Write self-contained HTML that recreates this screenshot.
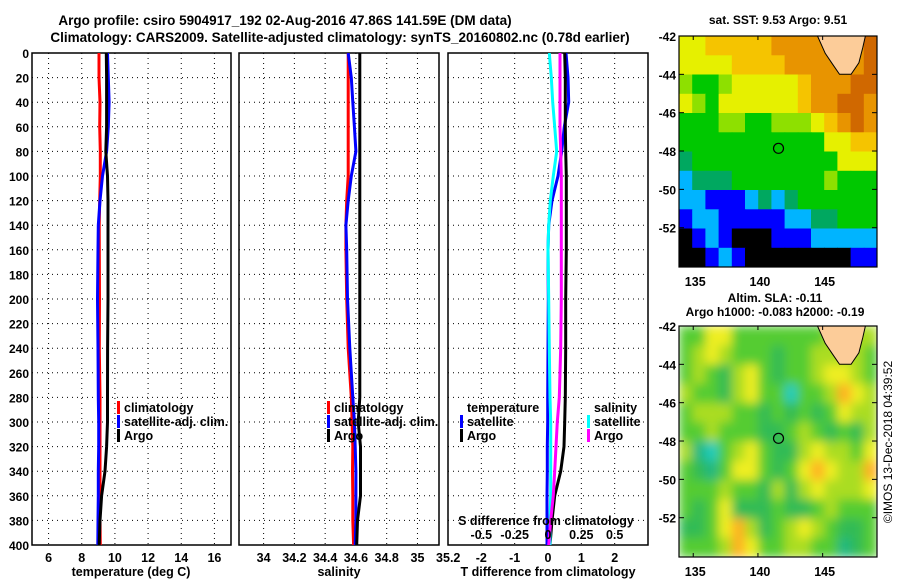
<!DOCTYPE html>
<html><head><meta charset="utf-8"><style>
body{margin:0;background:#fff;}
svg{display:block;font-family:"Liberation Sans",sans-serif;font-weight:bold;}
</style></head><body>
<svg id="fig" width="900" height="580" viewBox="0 0 900 580">
<defs>
<clipPath id="c1"><rect x="32" y="53" width="199" height="492"/></clipPath>
<clipPath id="c2"><rect x="239" y="53" width="200" height="492"/></clipPath>
<clipPath id="c3"><rect x="448" y="53" width="200" height="492"/></clipPath>
<clipPath id="cm1"><rect x="679" y="36" width="198" height="231"/></clipPath>
<clipPath id="cm2"><rect x="679" y="326" width="198" height="231"/></clipPath>
<filter id="blur" x="-5%" y="-5%" width="110%" height="110%"><feGaussianBlur stdDeviation="5" edgeMode="duplicate"/></filter>
</defs>
<text x="285" y="25" font-size="13.5" text-anchor="middle">Argo profile: csiro 5904917_192 02-Aug-2016 47.86S 141.59E (DM data)</text>
<text x="340" y="42" font-size="13.5" text-anchor="middle">Climatology: CARS2009. Satellite-adjusted climatology: synTS_20160802.nc (0.78d earlier)</text>
<text x="778" y="24" font-size="12" text-anchor="middle">sat. SST: 9.53 Argo: 9.51</text>
<text x="775" y="302" font-size="12" text-anchor="middle">Altim. SLA: -0.11</text>
<text x="775" y="316" font-size="12" text-anchor="middle">Argo h1000: -0.083 h2000: -0.19</text>
<text transform="translate(892,442) rotate(-90)" font-size="12" font-weight="normal" text-anchor="middle">©IMOS 13-Dec-2018 04:39:52</text>
<g id="plots"></g>
</svg>
<script>
// ---- profile data ----
const depths = [0,20,40,60,80,100,120,140,160,200,240,280,300,320,340,360,380,400];
const tempClim = [9.04,9.04,9.1,9.08,9.12,9.12,9.08,9.05,9.06,9.07,9.06,9.1,9.1,9.1,9.1,9.1,9.1,9.12];
const tempSat = [9.55,9.6,9.65,9.6,9.5,9.25,9.1,9.0,8.98,8.95,8.98,9.0,9.02,9.02,9.0,9.0,8.98,8.97];
const tempArgo = [9.48,9.5,9.5,9.5,9.45,9.55,9.58,9.58,9.58,9.58,9.56,9.55,9.55,9.5,9.4,9.2,9.1,9.05];
const salClim = [34.55,34.55,34.55,34.55,34.55,34.55,34.54,34.535,34.535,34.54,34.55,34.57,34.575,34.58,34.578,34.58,34.58,34.585];
const salSat = [34.55,34.57,34.58,34.59,34.6,34.57,34.55,34.535,34.54,34.545,34.56,34.58,34.59,34.595,34.6,34.6,34.6,34.595];
const salArgo = [34.625,34.625,34.625,34.625,34.625,34.625,34.625,34.625,34.625,34.625,34.625,34.625,34.615,34.63,34.63,34.63,34.61,34.605];
const tdSat = [0.54,0.6,0.62,0.49,0.41,0.3,0.12,0.02,0,0.01,0,-0.01,-0.01,-0.02,-0.02,-0.03,-0.03,-0.03];
const tdArgo = [0.5,0.52,0.52,0.52,0.53,0.55,0.55,0.55,0.55,0.53,0.53,0.52,0.5,0.48,0.38,0.2,0.12,0.06];
const sdSat = [0.01,0.025,0.035,0.05,0.065,0.04,0.017,0.005,0,0.005,0.01,0.015,0.02,0.02,0.02,0.02,0.015,0.015];
const sdArgo = [0.09,0.09,0.09,0.09,0.095,0.1,0.1,0.1,0.1,0.1,0.095,0.085,0.07,0.06,0.05,0.04,0.02,0.005];
const depthTicks = [0,20,40,60,80,100,120,140,160,180,200,220,240,260,280,300,320,340,360,380,400];
const tempTicks = [6,8,10,12,14,16];
const salTicks = [34,34.2,34.4,34.6,34.8,35,35.2];
const tdTicks = [-2,-1,0,1,2];
const sdTicks = [-0.5,-0.25,0,0.25,0.5];
const sdTickLabels = ["-0.5","-0.25","0","0.25","0.5"];
// ---- map data (cells, rows lat -42..-54, 15 columns across lon range) ----
const sstRows = [
"66777778888LLL9","666677778888LL9","544566666788899","654666666788998",
"444554455567898","444444444446677","344444444444666","233344444445444",
"221112323444444","122111112233444","012100011122222","001210000000011"];
const slaRows = [
"335533333334LLL","345433323344LL3","343245323345543","433245330334654",
"344433232323544","334333223432324","410345322454435","321355323565446",
"333433242454445","323522232234333","223564234543223","333465334433123"];
const sstColors = ["#000000","#0000ff","#00b4ff","#00a860","#00c800","#8ee000","#e6f000","#f5c400","#e89400","#d06800"];
const slaColors = ["#22ccbb","#22b880","#33bb55","#55cc33","#aadd22","#eeee22","#ffb020"];
const lonTicks = [135,140,145];
const latTicks = [-42,-44,-46,-48,-50,-52];
const argoLon = 141.59, argoLat = -47.86;

const NS = "http://www.w3.org/2000/svg";
const G = document.getElementById('plots');
function el(tag, attrs, parent){const e=document.createElementNS(NS,tag);for(const k in attrs)e.setAttribute(k,attrs[k]);(parent||G).appendChild(e);return e;}
const Y0=53, Y1=545;
const yD = d => Y0 + d*(Y1-Y0)/400;

function panel(x0,x1,vmin,vmax,ticks,labels,name,clip,showY){
  const xs = v => x0 + (v-vmin)*(x1-x0)/(vmax-vmin);
  const g = el('g',{});
  
  
  depthTicks.forEach(d=>{
    if(d>0&&d<400){const l=el('line',{x1:x0,x2:x1,y1:yD(d),y2:yD(d),stroke:'#000','stroke-width':1,'stroke-dasharray':'1,4'},g);
    }
    if(showY){const t=el('text',{x:x0-3,y:yD(d)+5,'font-size':12,'text-anchor':'end'},g);t.textContent=d;
    }
  });
  ticks.forEach((v,i)=>{
    const x=xs(v);
    if(x>x0+1&&x<x1-1){const l=el('line',{x1:x,x2:x,y1:Y0,y2:Y1,stroke:'#000','stroke-width':1,'stroke-dasharray':'1,4'},g);
    }
    const t=el('text',{x:x,y:562,'font-size':12.5,'text-anchor':'middle'},g);t.textContent=labels[i];
    
  });
  const r=el('rect',{x:x0,y:Y0,width:x1-x0,height:Y1-Y0,fill:'none',stroke:'#000','stroke-width':1.5},g);
  
  return {xs,g};
}
function profile(p,vals,color,name,clip){
  const pts=depths.map((d,i)=>p.xs(vals[i]).toFixed(1)+','+yD(d).toFixed(1)).join(' ');
  const l=el('polyline',{points:pts,fill:'none',stroke:color,'stroke-width':3,'clip-path':'url(#'+clip+')'},p.g);
  
}
function legend(x,y,color,label,parent){
  const r=el('rect',{x:x,y:y-11,width:3,height:13,fill:color},parent);
  
  const t=el('text',{x:x+7,y:y,'font-size':12.5},parent);t.textContent=label;
  
}
function txt(x,y,s,anchor,name,size){const t=el('text',{x:x,y:y,'font-size':size||12.5,'text-anchor':anchor||'start'});t.textContent=s;
  return t;}

// temperature panel
const p1=panel(32,231,5,17,tempTicks,tempTicks.map(String),'temperature','c1',true);
profile(p1,tempClim,'#ff0000','temp-climatology-line','c1');
profile(p1,tempSat,'#0000ff','temp-satellite-line','c1');
profile(p1,tempArgo,'#000000','temp-argo-line','c1');
legend(117,412,'#ff0000','climatology',p1.g);legend(117,426,'#0000ff','satellite-adj. clim.',p1.g);legend(117,440,'#000000','Argo',p1.g);
txt(131,576,'temperature (deg C)','middle','temperature-axis-title');
// salinity panel
const p2=panel(239,439,33.84,35.14,salTicks,salTicks.map(String),'salinity','c2',false);
profile(p2,salClim,'#ff0000','sal-climatology-line','c2');
profile(p2,salSat,'#0000ff','sal-satellite-line','c2');
profile(p2,salArgo,'#000000','sal-argo-line','c2');
legend(327,412,'#ff0000','climatology',p2.g);legend(327,426,'#0000ff','satellite-adj. clim.',p2.g);legend(327,440,'#000000','Argo',p2.g);
txt(339,576,'salinity','middle','salinity-axis-title');
// difference panel
const p3=panel(448,648,-3,3,tdTicks,tdTicks.map(String),'difference','c3',false);
const sxs = v => 448 + (v+0.75)*200/1.5;
profile(p3,tdSat,'#0000ff','tdiff-satellite-line','c3');
profile(p3,tdArgo,'#000000','tdiff-argo-line','c3');
const p3s={xs:sxs,g:p3.g};
profile(p3s,sdSat,'#00ffff','sdiff-satellite-line','c3');
profile(p3s,sdArgo,'#ff00ff','sdiff-argo-line','c3');
txt(467,412,'temperature','start','legend-temperature-header');
legend(460,426,'#0000ff','satellite',p3.g);legend(460,440,'#000000','Argo',p3.g);
txt(594,412,'salinity','start','legend-salinity-header');
legend(587,426,'#00ffff','satellite',p3.g);legend(587,440,'#ff00ff','Argo',p3.g);
txt(546,525,'S difference from climatology','middle','s-axis-title');
sdTicks.forEach((v,i)=>{txt(sxs(v),539,sdTickLabels[i],'middle','s-tick-label');});
txt(548,576,'T difference from climatology','middle','t-axis-title');

// maps
const LON0=133.9, LON1=149.2, LAT0=-42, LAT1=-54.05;
const MX=679, MW=198, MH=231;
function map(top,rows,colors,name,clip,blur){
  const xL=lon=>MX+(lon-LON0)*MW/(LON1-LON0);
  const yL=lat=>top+(lat-LAT0)*MH/(LAT1-LAT0);
  const g=el('g',{'clip-path':'url(#'+clip+')'});
  
  const cg=el('g',blur?{filter:'url(#blur)'}:{},g);
  const nr=rows.length;
  rows.forEach((row,r)=>{
    const nc=row.length, cw=MW/nc, ch=MH/nr;
    for(let c=0;c<nc;c++){
      const code=row[c]; let col;
      if(code==='L'){let k=c-1;while(k>=0&&row[k]==='L')k--;col=colors[+row[Math.max(k,0)]];}else col=colors[+code];
      const cell=el('rect',{x:(MX+c*cw).toFixed(1),y:(top+r*ch).toFixed(1),width:(cw+0.6).toFixed(1),height:(ch+0.6).toFixed(1),fill:col},cg);
      
    }
  });
  const land=el('polygon',{points:[[144.6,-42],[145.2,-42.9],[145.8,-43.5],[146.3,-44],[147.2,-44],[147.8,-43.4],[148.1,-42.6],[148.3,-42]].map(p=>xL(p[0]).toFixed(1)+','+yL(p[1]).toFixed(1)).join(' '),fill:'#fccc99',stroke:'#000','stroke-width':1},g);
  
  const circ=el('circle',{cx:xL(argoLon),cy:yL(argoLat),r:5,fill:'none',stroke:'#000','stroke-width':1.2},g);
  
  const fr=el('rect',{x:MX,y:top,width:MW,height:MH,fill:'none',stroke:'#000','stroke-width':1.2});
  
  latTicks.forEach(l=>{const y=yL(l);
    el('line',{x1:MX,x2:MX+5,y1:y,y2:y,stroke:'#000'});el('line',{x1:MX+MW-5,x2:MX+MW,y1:y,y2:y,stroke:'#000'});
    txt(676,y+5,String(l),'end','lat-tick-label',12);});
  lonTicks.forEach(l=>{const x=xL(l);
    el('line',{x1:x,x2:x,y1:top,y2:top+4,stroke:'#000'});el('line',{x1:x,x2:x,y1:top+MH-4,y2:top+MH,stroke:'#000'});
    txt(x+2,top+250,String(l),'middle','lon-tick-label',12.5);});
}
map(36,sstRows,sstColors,'sst-map','cm1',false);
map(326,slaRows,slaColors,'sla-map','cm2',true);
</script>
</body></html>
